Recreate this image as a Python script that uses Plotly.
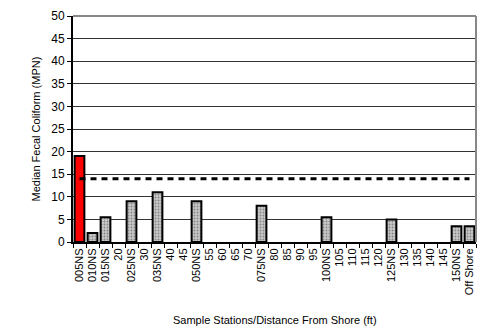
import plotly.graph_objects as go

stations = ["005NS", "010NS", "015NS", "20", "025NS", "30", "035NS", "40", "45",
            "050NS", "55", "60", "65", "70", "075NS", "80", "85", "90", "95",
            "100NS", "105", "110", "115", "120", "125NS", "130", "135", "140",
            "145", "150NS", "Off Shore"]
median_fc = [19, 2, 5.5, None, 9, None, 11, None, None,
             9, None, None, None, None, 8, None, None, None, None,
             5.5, None, None, None, None, 5, None, None, None,
             None, 3.5, 3.5]
standard = [14] * len(stations)
y_ticks = [0, 5, 10, 15, 20, 25, 30, 35, 40, 45, 50]

colors = ["#ff0000"] + ["#c8c8c8"] * (len(stations) - 1)
shapes = [""] + ["."] * (len(stations) - 1)

fig = go.Figure()
fig.add_trace(go.Bar(
    x=stations, y=median_fc,
    marker=dict(color=colors, line=dict(color="black", width=2),
                pattern=dict(shape=shapes, fgcolor="#999999", bgcolor="#d4d4d4",
                             size=3, solidity=0.3)),
    showlegend=False,
))
fig.add_trace(go.Scatter(
    x=stations, y=standard, mode="lines",
    line=dict(color="black", width=3, dash="6px,5px"),
    showlegend=False,
))

# page body has an 8px margin, so the figure is drawn a bit smaller
fig.update_layout(
    width=483, height=324,
    margin=dict(l=65, r=15, t=8, b=90),
    plot_bgcolor="white", paper_bgcolor="white",
    bargap=0.25,
    font=dict(family="Liberation Sans, Arial, sans-serif", size=11, color="black"),
)
fig.update_xaxes(
    type="category", tickangle=-90, tickson="boundaries", ticks="outside",
    ticklen=4, tickcolor="black", showline=True, linecolor="black", linewidth=2,
    showgrid=False, tickfont=dict(size=11), automargin=False,
)
fig.update_yaxes(
    range=[0, 50], tickmode="array", tickvals=y_ticks,
    ticktext=[str(v) for v in y_ticks], ticklabeloverflow="allow",
    ticks="outside", ticklen=4, tickcolor="black",
    showline=True, linecolor="black", linewidth=2, showgrid=True,
    gridcolor="#333333", gridwidth=1, zeroline=False, tickfont=dict(size=12),
    automargin=False,
)
fig.add_annotation(text="Sample Stations/Distance From Shore (ft)", xref="paper", yref="paper",
                   x=0.5, y=-0.345, yanchor="middle", showarrow=False, font=dict(size=11))
fig.add_annotation(text="Median Fecal Coliform (MPN)", xref="paper", yref="paper",
                   x=-0.093, y=0.5, textangle=-90, xanchor="center", showarrow=False,
                   font=dict(size=11))
# gray frame on the top and right edges
fig.add_shape(type="line", xref="paper", yref="paper", x0=0, y0=1, x1=1, y1=1,
              line=dict(color="#888888", width=2), layer="above")
fig.add_shape(type="line", xref="paper", yref="paper", x0=1, y0=0, x1=1, y1=1,
              line=dict(color="#888888", width=2), layer="above")

fig.write_html("out.html")
